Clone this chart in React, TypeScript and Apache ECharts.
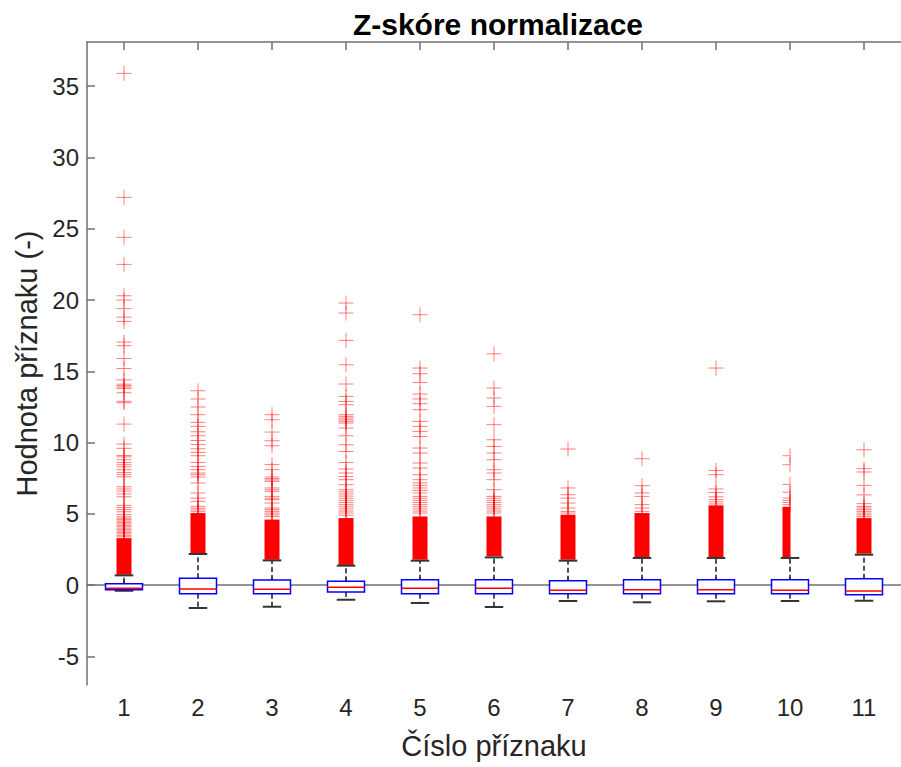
import React, { useEffect, useRef } from 'react';
import * as echarts from 'echarts';

// Feature numbers on the x axis
const features = ['1', '2', '3', '4', '5', '6', '7', '8', '9', '10', '11'];

// Box statistics per feature (z-scored values)
const whiskerLow = [-0.39, -1.6, -1.51, -1.02, -1.25, -1.53, -1.11, -1.2, -1.13, -1.11, -1.09];
const quartile1 = [-0.32, -0.6, -0.6, -0.48, -0.6, -0.6, -0.6, -0.6, -0.6, -0.6, -0.67];
const medians = [-0.22, -0.27, -0.29, -0.15, -0.22, -0.22, -0.36, -0.32, -0.32, -0.36, -0.41];
const quartile3 = [0.1, 0.48, 0.36, 0.27, 0.39, 0.39, 0.32, 0.39, 0.39, 0.39, 0.46];
const whiskerHigh = [0.69, 2.19, 1.74, 1.37, 1.72, 1.95, 1.72, 1.91, 1.91, 1.91, 2.14];

// Ranges where outliers are packed so tightly they merge into a solid column
const denseFrom = [0.74, 2.26, 1.79, 1.42, 1.79, 2.03, 1.79, 1.96, 1.96, 1.96, 2.21];
const denseTo = [3.3, 5.06, 4.6, 4.71, 4.82, 4.82, 4.94, 5.06, 5.6, 5.5, 4.71];

// Individual outliers above the dense ranges
const outliers: number[][] = [
  [35.9, 27.2, 24.4, 22.5, 20.3, 20.0, 19.4, 18.8, 18.5, 17.05, 16.8, 15.9, 15.2, 14.4, 14.1, 14.0, 13.9, 13.8,
    13.5, 12.9, 12.8, 11.3, 9.9, 9.6, 9.1, 9.0, 8.8, 8.6, 8.45, 8.3, 8.1, 7.9, 7.75, 7.6, 6.9, 6.75, 6.6, 6.4,
    6.2, 5.6, 5.45, 5.3, 5.15, 4.95, 4.8, 4.7, 4.6, 4.5, 4.4, 4.3, 4.2, 4.1, 4.0, 3.9, 3.8, 3.7, 3.6, 3.5, 3.4],
  [13.64, 13.06, 12.5, 11.96, 11.42, 11.14, 10.76, 10.48, 10.15, 9.87, 9.57, 9.31, 9.08, 8.61, 8.33, 8.1, 7.87,
    7.75, 7.59, 7.17, 6.47, 6.11, 5.88, 5.53, 5.4, 5.28, 5.16],
  [11.96, 11.6, 10.74, 10.13, 9.78, 8.47, 8.1, 7.59, 7.48, 7.38, 7.28, 6.82, 6.7, 6.58, 6.23, 6.1, 6.0, 5.76,
    5.41, 5.3, 5.18, 5.06, 4.94, 4.82],
  [19.79, 19.09, 17.17, 15.46, 14.11, 13.24, 12.89, 12.66, 11.96, 11.84, 11.72, 11.6, 11.49, 11.37, 11.02,
    10.48, 9.85, 9.38, 8.61, 8.15, 7.87, 7.63, 7.4, 7.05, 6.7, 6.55, 6.4, 6.25, 6.1, 5.95, 5.8, 5.65, 5.5, 5.35,
    5.2, 5.06, 4.9],
  [18.97, 15.23, 14.83, 14.22, 13.41, 13.06, 12.73, 12.31, 11.49, 11.14, 10.79, 10.43, 9.62, 9.27, 8.57, 8.22,
    7.75, 7.4, 7.17, 7.0, 6.82, 6.65, 6.47, 6.23, 6.1, 5.95, 5.8, 5.65, 5.5, 5.35, 5.2, 5.06],
  [16.23, 13.83, 13.13, 12.54, 11.26, 10.2, 9.73, 9.27, 8.8, 8.1, 7.87, 7.4, 6.7, 6.23, 6.1, 5.95, 5.8, 5.65,
    5.5, 5.35, 5.2, 5.06],
  [9.55, 6.82, 6.35, 6.11, 5.76, 5.41, 5.18, 5.06],
  [8.87, 6.98, 6.47, 6.23, 5.65, 5.41, 5.18],
  [15.23, 8.05, 7.75, 6.75, 6.5, 6.2, 6.0, 5.85, 5.7],
  [9.08, 8.45, 7.07, 6.52, 6.11, 5.95, 5.8, 5.65],
  [9.5, 8.17, 7.94, 7.0, 6.33, 5.72, 5.53, 5.42, 5.3, 5.18, 5.06, 4.94, 4.82],
];

// Y axis range and tick values
const yMin = -7;
const yMax = 38.1;
const yTicks = [-5, 0, 5, 10, 15, 20, 25, 30, 35];

const TITLE = 'Z-skóre normalizace';
const X_NAME = 'Číslo příznaku';
const Y_NAME = 'Hodnota příznaku (-)';

const FONT = '"Liberation Sans", Arial, Helvetica, sans-serif';
const AXIS_COLOR = '#707070';
const TEXT_COLOR = '#262626';
const MARK_HALF = 7.5;
// column whose marks are drawn only on the left of the centre line
const HALF_MARK_COLUMN = 9;

export default function App() {
  const ref = useRef<HTMLDivElement>(null);

  useEffect(() => {
    if (!ref.current) return;
    const chart = echarts.init(ref.current, null, { renderer: 'svg' });

    const boxData = features.map((_, i) => [i, whiskerLow[i], quartile1[i], medians[i], quartile3[i], whiskerHigh[i]]);
    const denseData = features.map((_, i) => [i, denseFrom[i], denseTo[i]]);
    const outlierData: number[][] = [];
    outliers.forEach((vals, i) => vals.forEach((v) => outlierData.push([i, v])));

    const axisLineStyle = { color: AXIS_COLOR, width: 1.5 };

    chart.setOption({
      animation: false,
      backgroundColor: '#ffffff',
      textStyle: { fontFamily: FONT },
      grid: { left: 87, top: 42, width: 822, height: 643, containLabel: false },
      graphic: [
        {
          type: 'text',
          x: 498,
          y: 24,
          style: {
            text: TITLE,
            textAlign: 'center',
            textVerticalAlign: 'middle',
            font: `bold 30px ${FONT}`,
            fill: '#000000',
          },
        },
      ],
      xAxis: [
        {
          type: 'category',
          data: features,
          position: 'bottom',
          boundaryGap: true,
          axisLine: { show: true, lineStyle: axisLineStyle },
          axisTick: { show: true, inside: true, alignWithLabel: true, interval: 0, length: 8, lineStyle: axisLineStyle },
          axisLabel: { interval: 0, fontSize: 24, color: TEXT_COLOR, margin: 10, fontFamily: FONT },
          splitLine: { show: false },
          name: X_NAME,
          nameLocation: 'middle',
          nameGap: 46,
          nameTextStyle: { fontSize: 29, color: TEXT_COLOR, fontFamily: FONT },
        },
        {
          type: 'category',
          data: features,
          position: 'top',
          boundaryGap: true,
          axisLine: { show: true, lineStyle: axisLineStyle },
          axisTick: { show: true, inside: true, alignWithLabel: true, interval: 0, length: 8, lineStyle: axisLineStyle },
          axisLabel: { show: false },
          splitLine: { show: false },
        },
      ],
      yAxis: {
        type: 'value',
        min: yMin,
        max: yMax,
        axisLine: { show: true, lineStyle: axisLineStyle },
        axisTick: { show: true, inside: true, length: 8, customValues: yTicks, lineStyle: axisLineStyle },
        axisLabel: { customValues: yTicks, fontSize: 24, color: TEXT_COLOR, margin: 8, fontFamily: FONT },
        splitLine: { show: false },
        name: Y_NAME,
        nameLocation: 'middle',
        nameGap: 43,
        nameRotate: 90,
        nameTextStyle: { fontSize: 29, color: TEXT_COLOR, fontFamily: FONT },
      },
      series: [
        {
          type: 'custom',
          name: 'dense',
          xAxisIndex: 0,
          data: denseData,
          encode: { x: 0, y: [1, 2] },
          renderItem: (_params: any, api: any) => {
            const i = api.value(0);
            const cx = api.coord([i, 0])[0];
            const yLo = api.coord([i, api.value(1)])[1];
            const yHi = api.coord([i, api.value(2)])[1];
            const half = i === HALF_MARK_COLUMN;
            const x0 = cx - MARK_HALF;
            const w = half ? MARK_HALF + 0.5 : 2 * MARK_HALF;
            return {
              type: 'rect',
              shape: { x: x0, y: yHi, width: w, height: yLo - yHi },
              style: { fill: '#ff0000' },
            };
          },
        },
        {
          type: 'custom',
          name: 'outliers',
          xAxisIndex: 0,
          data: outlierData,
          encode: { x: 0, y: 1 },
          renderItem: (_params: any, api: any) => {
            const i = api.value(0);
            const [cx, cy] = api.coord([i, api.value(1)]);
            const half = i === HALF_MARK_COLUMN;
            const style = { stroke: '#ff0000', lineWidth: 1, opacity: 0.5 };
            return {
              type: 'group',
              children: [
                { type: 'line', shape: { x1: cx - MARK_HALF, y1: cy, x2: half ? cx : cx + MARK_HALF, y2: cy }, style },
                { type: 'line', shape: { x1: cx, y1: cy - MARK_HALF, x2: cx, y2: cy + MARK_HALF }, style },
              ],
            };
          },
        },
        {
          type: 'custom',
          name: 'boxes',
          xAxisIndex: 0,
          data: boxData,
          encode: { x: 0, y: [1, 2, 3, 4, 5] },
          renderItem: (_params: any, api: any) => {
            const i = api.value(0);
            const cx = api.coord([i, 0])[0];
            const band = api.size([1, 0])[0];
            const bw = band * 0.5;
            const cw = band * 0.25;
            const y = (k: number) => api.coord([i, api.value(k)])[1];
            const yLo = y(1);
            const yQ1 = y(2);
            const yMed = y(3);
            const yQ3 = y(4);
            const yHi = y(5);
            const dash = { stroke: '#1a1a1a', lineWidth: 1.5, lineDash: [5, 3] };
            const cap = { stroke: '#333333', lineWidth: 2 };
            return {
              type: 'group',
              children: [
                { type: 'line', shape: { x1: cx, y1: yQ3, x2: cx, y2: yHi }, style: dash },
                { type: 'line', shape: { x1: cx, y1: yQ1, x2: cx, y2: yLo }, style: dash },
                { type: 'line', shape: { x1: cx - cw / 2, y1: yHi, x2: cx + cw / 2, y2: yHi }, style: cap },
                { type: 'line', shape: { x1: cx - cw / 2, y1: yLo, x2: cx + cw / 2, y2: yLo }, style: cap },
                {
                  type: 'rect',
                  shape: { x: cx - bw / 2, y: yQ3, width: bw, height: yQ1 - yQ3 },
                  style: { fill: '#ffffff', stroke: '#0000ff', lineWidth: 1.5 },
                },
                {
                  type: 'line',
                  shape: { x1: cx - bw / 2, y1: yMed, x2: cx + bw / 2, y2: yMed },
                  style: { stroke: '#ff0000', lineWidth: 1.5 },
                },
              ],
            };
          },
        },
      ],
    });

    return () => chart.dispose();
  }, []);

  return (
    <div
      ref={ref}
      style={{ position: 'absolute', left: 0, top: 0, width: 901, height: 767, background: '#ffffff' }}
    />
  );
}
